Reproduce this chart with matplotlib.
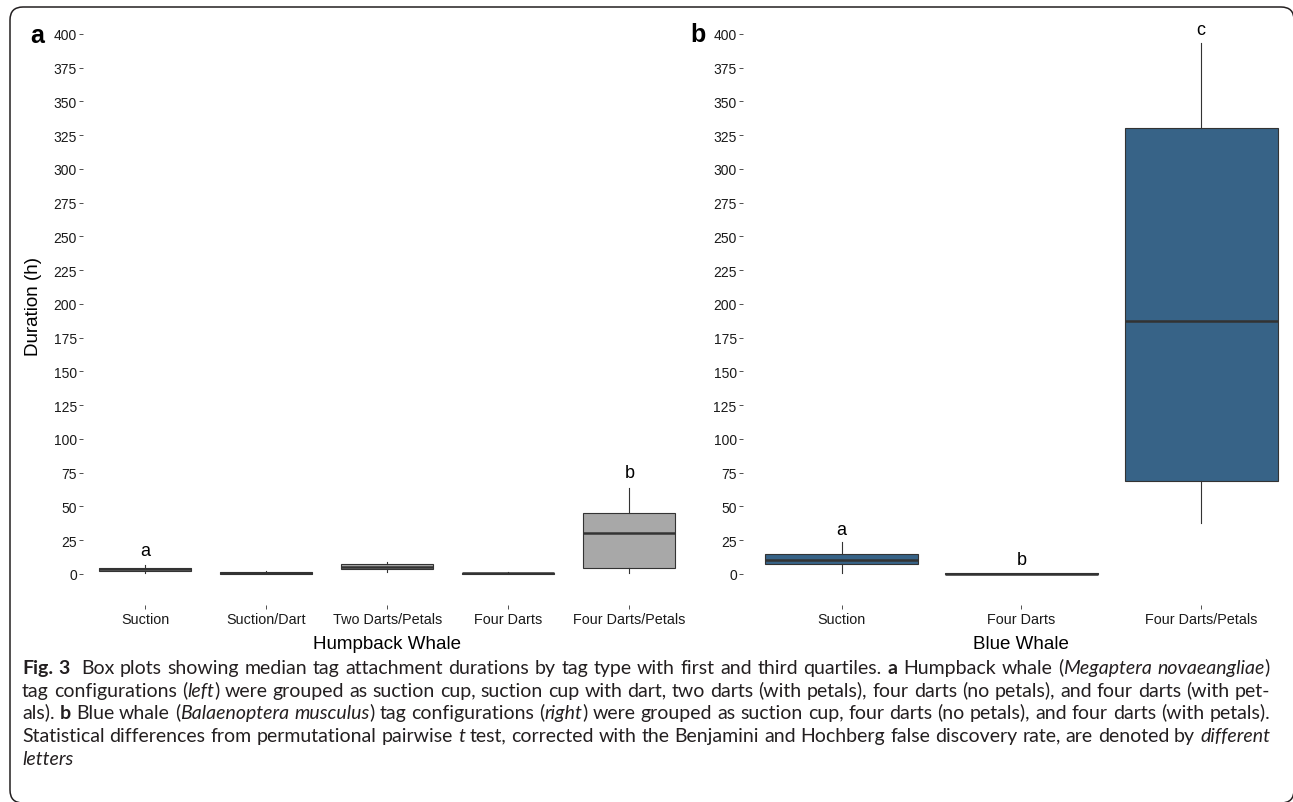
import matplotlib.pyplot as plt
from matplotlib.patches import FancyBboxPatch
from matplotlib.transforms import IdentityTransform
from matplotlib.backends.backend_agg import get_hinting_flag

plt.rcParams.update({
    "font.family": "sans-serif",
    "font.sans-serif": ["Liberation Sans", "Arial", "DejaVu Sans"],
    "axes.linewidth": 0.8,
})

# -----------------------------------------------------------------------------
# Data (box statistics, hours)
# -----------------------------------------------------------------------------
hb_groups = ["Suction", "Suction/Dart", "Two Darts/Petals", "Four Darts", "Four Darts/Petals"]
hb_whislo = [0.5, 0.0, 1.7, 0.2, 0.5]
hb_q1 = [2.4, 0.3, 3.5, 0.3, 4.2]
hb_med = [3.5, 1.0, 5.5, 0.6, 30.0]
hb_q3 = [4.6, 1.6, 7.5, 0.9, 45.0]
hb_whishi = [6.5, 2.5, 8.6, 1.2, 64.0]
hb_letters = ["a", "", "", "", "b"]
hb_letter_y = [17, 0, 0, 0, 75]

bw_groups = ["Suction", "Four Darts", "Four Darts/Petals"]
bw_whislo = [0.5, 0.0, 38.0]
bw_q1 = [7.5, 0.1, 69.0]
bw_med = [10.6, 0.3, 187.5]
bw_q3 = [14.8, 0.5, 330.0]
bw_whishi = [24.0, 0.8, 393.0]
bw_letters = ["a", "b", "c"]
bw_letter_y = [33, 11, 403]

y_ticks = list(range(0, 401, 25))

caption_lines = [
    [("Fig. 3", "b"), ("  Box plots showing median tag attachment durations by tag type with first and third quartiles. ", "n"),
     ("a", "b"), (" Humpback whale (", "n"), ("Megaptera novaeangliae", "i"), (")", "n")],
    [("tag configurations (", "n"), ("left", "i"),
     (") were grouped as suction cup, suction cup with dart, two darts (with petals), four darts (no petals), and four darts (with pet-", "n")],
    [("als). ", "n"), ("b", "b"), (" Blue whale (", "n"), ("Balaenoptera musculus", "i"), (") tag configurations (", "n"),
     ("right", "i"), (") were grouped as suction cup, four darts (no petals), and four darts (with petals).", "n")],
    [("Statistical differences from permutational pairwise ", "n"), ("t", "i"),
     (" test, corrected with the Benjamini and Hochberg false discovery rate, are denoted by ", "n"), ("different", "i")],
    [("letters", "i")],
]
caption_baselines = [674, 697, 719, 742, 765]

EDGE = "#333333"
TICK_C = "#333333"
W, H = 1293, 803


def fx(x):
    return x / W


def fy(y):
    return 1 - y / H


def make_stats(groups, lo, q1, med, q3, hi):
    return [dict(label=g, whislo=a, q1=b, med=c, q3=d, whishi=e, fliers=[])
            for g, a, b, c, d, e in zip(groups, lo, q1, med, q3, hi)]


def draw_panel(ax, stats, fill, width, letters, letter_y, xlim):
    pos = list(range(1, len(stats) + 1))
    ax.bxp(stats, positions=pos, widths=width, patch_artist=True,
           showcaps=False, showfliers=False,
           boxprops=dict(facecolor=fill, edgecolor=EDGE, linewidth=0.8),
           medianprops=dict(color=EDGE, linewidth=1.8, solid_capstyle="butt"),
           whiskerprops=dict(color=EDGE, linewidth=0.8))
    for p, lab, ly in zip(pos, letters, letter_y):
        if lab:
            ax.text(p, ly, lab, ha="center", va="center", fontsize=13, color="black")
    ax.set_xlim(*xlim)
    ax.set_ylim(-23, 411)
    ax.set_yticks(y_ticks)
    ax.set_yticklabels([str(v) for v in y_ticks])
    ax.set_xticks(pos)
    ax.set_xticklabels([s["label"] for s in stats])
    for sp in ax.spines.values():
        sp.set_visible(False)
    ax.tick_params(axis="y", length=3, width=0.6, color=TICK_C, pad=1.5,
                   labelsize=10, labelcolor="#1a1a1a")
    ax.tick_params(axis="x", length=3, width=0.6, color=TICK_C, pad=2,
                   labelsize=10.4, labelcolor="#1a1a1a")
    ax.set_facecolor("none")


def snap_baseline(renderer, t, x, base_row):
    # Agg rounds each string on its own descent; shift so all words share one baseline row
    font = renderer._prepare_font(t.get_fontproperties())
    font.set_text(t.get_text(), 0, flags=get_hinting_flag())
    desc = font.get_descent()
    hgt = font.get_width_height()[1]
    ymax = hgt - desc
    k = base_row + hgt // 64 - ymax // 64
    yflip = k - desc / 64.0
    t.set_position((x, renderer.height - yflip))


def caption_line(fig, runs, baseline, x0=22, x1=1270, justify=True):
    renderer = fig.canvas.get_renderer()
    fam = ["Lato", "Open Sans", "DejaVu Sans"]
    size = 14

    def make(txt, style):
        return fig.text(0, 0, txt, transform=IdentityTransform(), family=fam, fontsize=size,
                        fontweight="bold" if style == "b" else "normal",
                        fontstyle="italic" if style == "i" else "normal",
                        ha="left", va="baseline", color="#231f20")

    t1, t2 = make("a a", "n"), make("aa", "n")
    space_w = t1.get_window_extent(renderer).width - t2.get_window_extent(renderer).width
    t1.remove()
    t2.remove()

    pieces = []
    for text, style in runs:
        for k, part in enumerate(text.split(" ")):
            if k > 0:
                pieces.append(None)
            if part:
                pieces.append(make(part, style))

    widths = [p.get_window_extent(renderer).width if p is not None else 0 for p in pieces]
    n_space = sum(1 for p in pieces if p is None)
    natural = sum(widths) + n_space * space_w
    gap = space_w
    if justify and n_space:
        gap = max(space_w * 0.6, space_w + (x1 - x0 - natural) / n_space)

    x = x0
    for p, w in zip(pieces, widths):
        if p is None:
            x += gap
        else:
            snap_baseline(renderer, p, x, baseline)
            x += w


# -----------------------------------------------------------------------------
# Figure
# -----------------------------------------------------------------------------
fig = plt.figure(figsize=(W / 100, H / 100), dpi=100)

frame = FancyBboxPatch((10, -1), 1284, 796, boxstyle="round,pad=0,rounding_size=13",
                       transform=IdentityTransform(), facecolor="none",
                       edgecolor="#231f20", linewidth=1.1, clip_on=False)
fig.patches.append(frame)

ax_a = fig.add_axes([fx(83), fy(606), fx(702) - fx(83), fy(20) - fy(606)])
ax_b = fig.add_axes([fx(743), fy(606), fx(1293) - fx(743), fy(20) - fy(606)])

draw_panel(ax_a, make_stats(hb_groups, hb_whislo, hb_q1, hb_med, hb_q3, hb_whishi),
           "#a8a8a8", 0.76, hb_letters, hb_letter_y, (0.488, 5.6))
draw_panel(ax_b, make_stats(bw_groups, bw_whislo, bw_q1, bw_med, bw_q3, bw_whishi),
           "#376387", 0.85, bw_letters, bw_letter_y, (0.451, 3.511))

fig.text(fx(387), fy(645), "Humpback Whale", ha="center", va="center", fontsize=13.5)
fig.text(fx(1021), fy(645), "Blue Whale", ha="center", va="center", fontsize=13.5)
fig.text(fx(33), fy(307), "Duration (h)", ha="center", va="center", rotation=90, fontsize=13.5)

fig.text(fx(37), fy(36), "a", ha="center", va="center", fontsize=18, fontweight="bold")
fig.text(fx(698), fy(35), "b", ha="center", va="center", fontsize=18, fontweight="bold")

for runs, base in zip(caption_lines, caption_baselines):
    caption_line(fig, runs, base, justify=(runs is not caption_lines[-1]))

fig.savefig("out.png", dpi=100)
plt.close(fig)
